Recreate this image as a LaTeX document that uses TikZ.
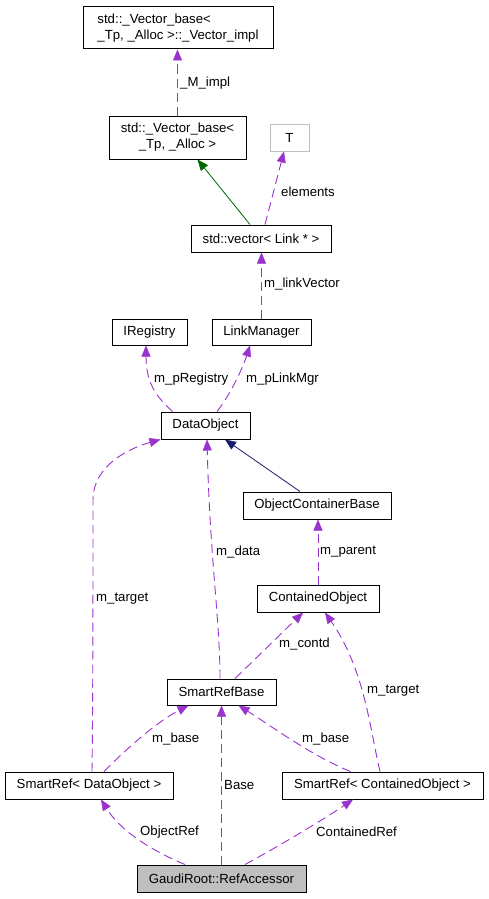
\documentclass[tikz,border=0pt]{standalone}
\usepackage{fontspec}
\setmainfont{Liberation Sans}
\usetikzlibrary{arrows.meta}
\definecolor{edgepurple}{HTML}{9A32CD}
\definecolor{edgegreen}{HTML}{006400}
\definecolor{edgenavy}{HTML}{191970}
\definecolor{boxgray}{HTML}{BFBFBF}
\begin{document}
\begin{tikzpicture}[x=1pt,y=-1pt,
  every node/.style={font=\fontsize{13.2}{16}\selectfont},
  cls/.style={draw=black,line width=1pt,inner sep=0pt,minimum height=27pt},
  lbl/.style={anchor=west,inner sep=0pt},
  tip/.style={-{Triangle[length=11pt,width=9pt,line width=0.5pt]}},
  usage/.style={tip,draw=edgepurple,line width=0.9pt,dash pattern=on 9pt off 5pt},
  inherit/.style={tip,line width=0.8pt},
]
\useasboundingbox (0,0) rectangle (488,899);
% nodes
\node[cls,minimum width=190pt,minimum height=42pt,align=left] (impl) at (178,28) {std::\_Vector\_base<\\\_Tp, \_Alloc >::\_Vector\_impl};
\node[cls,minimum width=137pt,minimum height=43pt,align=center] (vbase) at (177.5,137.5) {std::\_Vector\_base<\\\_Tp, \_Alloc >};
\node[cls,draw=boxgray,minimum width=39pt] (T) at (289.5,137.5) {T};
\node[cls,minimum width=140pt] (vec) at (261,238.5) {std::vector< Link * >};
\node[cls,minimum width=75pt,minimum height=26pt] (ireg) at (149.5,332) {IRegistry};
\node[cls,minimum width=99pt,minimum height=26pt] (lmgr) at (261.5,332) {LinkManager};
\node[cls,minimum width=89pt] (dobj) at (205.5,425.5) {DataObject};
\node[cls,minimum width=148pt] (ocb) at (317,505.5) {ObjectContainerBase};
\node[cls,minimum width=122pt] (cobj) at (318,598.5) {ContainedObject};
\node[cls,minimum width=109pt,minimum height=26pt] (srb) at (221.5,692) {SmartRefBase};
\node[cls,minimum width=168pt] (srd) at (89,785.5) {SmartRef< DataObject >};
\node[cls,minimum width=201pt] (src) at (382.5,785.5) {SmartRef< ContainedObject >};
\node[cls,fill=boxgray,minimum width=169pt] (acc) at (221.5,878.5) {GaudiRoot::RefAccessor};
% edges
\draw[usage] (vbase.north) -- (vbase.north |- impl.south);
\node[lbl] (l1) at (180,83) {\_M\_impl};
\draw[inherit,draw=edgegreen] ([xshift=-11pt]vec.north) -- ([xshift=20pt]vbase.south);
\draw[usage] ([xshift=4pt]vec.north) -- ([xshift=-5.5pt]T.south);
\node[lbl] (l2) at (281,192) {elements};
\draw[usage] (lmgr.north) -- (lmgr.north |- vec.south);
\node[lbl] (l3) at (264,284) {m\_linkVector};
\draw[usage] ([xshift=-33pt]dobj.north) .. controls (158,398) and (146,385) .. ([xshift=-3.5pt]ireg.south);
\node[lbl] (l4) at (154,379) {m\_pRegistry};
\draw[usage] ([xshift=11.5pt]dobj.north) .. controls (230,395) and (242,370) .. ([xshift=-11.5pt]lmgr.south);
\node[lbl] (l5) at (246,379) {m\_pLinkMgr};
\draw[inherit,draw=edgenavy] ([xshift=-17pt]ocb.north) -- ([xshift=19.5pt]dobj.south);
\draw[usage] ([xshift=-1.5pt]srb.north) .. controls (220,620) and (210,560) .. ([xshift=1.5pt]dobj.south);
\node[lbl] (l6) at (216,552) {m\_data};
\draw[usage] ([xshift=3pt]srd.north) .. controls (93,700) and (93,560) .. (93,500) .. controls (93,465) and (130,448) .. (dobj.south west);
\node[lbl] (l7) at (96,599) {m\_target};
\draw[usage] (cobj.north) -- (cobj.north |- ocb.south);
\node[lbl] (l8) at (320,552) {m\_parent};
\draw[usage] ([xshift=13.5pt]srb.north) -- ([xshift=-15pt]cobj.south);
\node[lbl] (l9) at (279,644) {m\_contd};
\draw[usage] ([xshift=-2.5pt]src.north) .. controls (370,730) and (365,670) .. ([xshift=7pt]cobj.south);
\node[lbl] (l10) at (367,691) {m\_target};
\draw[usage] ([xshift=15pt]srd.north) .. controls (130,745) and (160,720) .. ([xshift=-33pt]srb.south);
\node[lbl] (l11) at (152,739) {m\_base};
\draw[usage] ([xshift=-32pt]src.north) .. controls (310,755) and (270,725) .. ([xshift=17pt]srb.south);
\node[lbl] (l12) at (302,739) {m\_base};
\draw[usage] (acc.north) -- (acc.north |- srb.south);
\node[lbl] (l13) at (224,785) {Base};
\draw[usage] ([xshift=-36.5pt]acc.north) .. controls (150,850) and (120,830) .. ([xshift=12pt]srd.south);
\node[lbl] (l14) at (140,832) {ObjectRef};
\draw[usage] ([xshift=23.5pt]acc.north) .. controls (290,840) and (330,815) .. ([xshift=-29.5pt]src.south);
\node[lbl] (l15) at (316,832) {ContainedRef};
\end{tikzpicture}
\end{document}
